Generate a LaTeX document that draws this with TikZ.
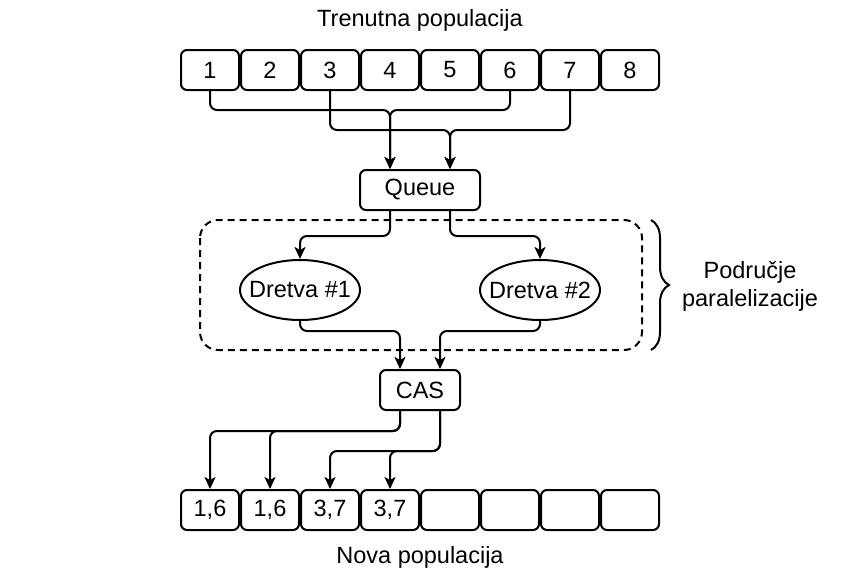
\documentclass[tikz,border=0pt]{standalone}
\usepackage{fontspec}
\setmainfont{Liberation Sans}
\usepackage{tikz}
\usetikzlibrary{arrows.meta,shapes.geometric,decorations.pathreplacing}

\begin{document}
\begin{tikzpicture}[x=1pt,y=-1pt,
        every node/.style={font=\fontsize{23.5}{28}\selectfont},
        cell/.style={draw,line width=2pt,rounded corners=6pt,minimum width=58pt,minimum height=40pt,inner sep=0pt},
        box/.style={draw,line width=2pt,rounded corners=6pt,minimum height=40pt,inner sep=0pt},
        thread/.style={draw,ellipse,line width=2pt,minimum width=120pt,minimum height=60pt,inner xsep=-9pt,inner ysep=0pt},
        link/.style={line width=2pt,rounded corners=7pt,-{Stealth[length=12pt,width=11pt,inset=3pt]}},
        region/.style={line width=2pt,dash pattern=on 7pt off 5pt,rounded corners=18pt}]
        \useasboundingbox (0,0) rectangle (842,582);
        % Trenutna populacija
        \node (cur) at (420,20) {Trenutna populacija};
        \foreach \i in {1,...,8}
            \node[cell] (t\i) at ({150+60*\i},70) {\i};
        % Queue
        \node[box,minimum width=120pt] (q) at (420,190) {Queue};
        \coordinate (m1) at (390,110);
        \coordinate (m2) at (450,130);
        \draw[link] (t1.south) |- (m1) -- (q.north -| m1);
        \draw[link] (t6.south) |- (m1) -- (q.north -| m1);
        \draw[link] (t3.south) |- (m2) -- (q.north -| m2);
        \draw[link] (t7.south) |- (m2) -- (q.north -| m2);
        % Podrucje paralelizacije
        \draw[region] (200,220) rectangle (642,350);
        \node[thread] (d1) at (300,290) {Dretva \#1};
        \node[thread] (d2) at (540,290) {Dretva \#2};
        \draw[link] (q.south -| m1) -- ++(0,25) -| (d1.north);
        \draw[link] (q.south -| m2) -- ++(0,25) -| (d2.north);
        \draw[line width=2pt,decorate,decoration={brace,amplitude=18pt}] (651,220) -- (651,350);
        \node[align=center] (par) at (750,286) {Područje\\paralelizacije};
        % CAS
        \node[box,minimum width=80pt] (cas) at (420,390) {CAS};
        \draw[link] (d1.south) -- ++(0,10) -| ([xshift=-20pt]cas.north);
        \draw[link] (d2.south) -- ++(0,10) -| ([xshift=20pt]cas.north);
        % Nova populacija
        \foreach \i/\t in {1/{1,6},2/{1,6},3/{3,7},4/{3,7},5/{},6/{},7/{},8/{}}
            \node[cell] (b\i) at ({150+60*\i},510) {\t};
        \node (new) at (420,557) {Nova populacija};
        \draw[link] ([xshift=-20pt]cas.south) -- ++(0,20) -| (b1.north);
        \draw[link] ([xshift=-20pt]cas.south) -- ++(0,20) -| (b2.north);
        \draw[link] ([xshift=20pt]cas.south) -- ++(0,40) -| (b3.north);
        \draw[link] ([xshift=20pt]cas.south) -- ++(0,40) -| (b4.north);
    \end{tikzpicture}
\end{document}
